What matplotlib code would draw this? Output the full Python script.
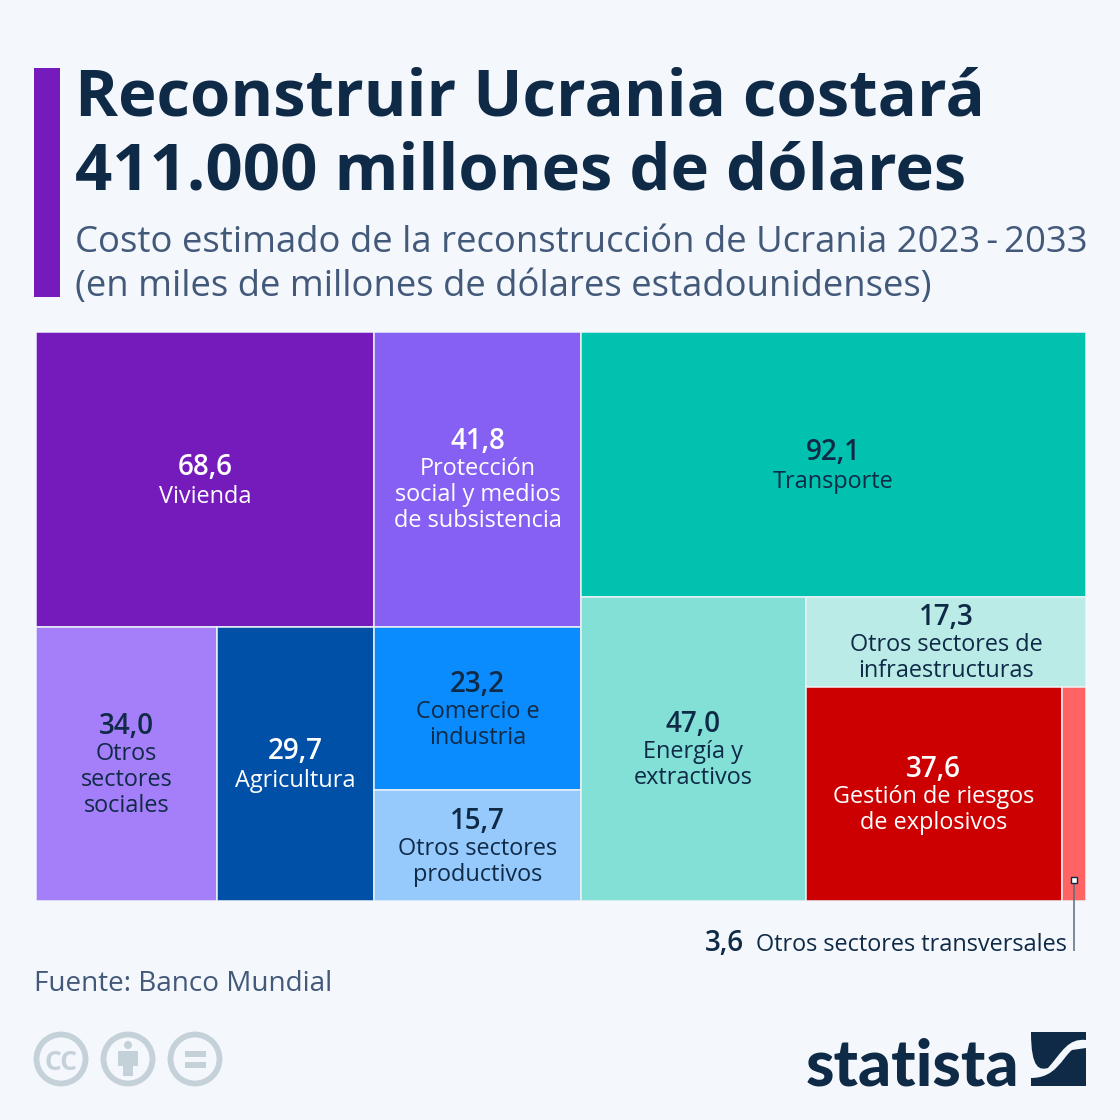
#!/usr/bin/env python3
# -*- coding: utf-8 -*-
"""
Treemap: estimated cost of rebuilding Ukraine 2023-2033, by sector.
"""

import matplotlib
matplotlib.use('Agg')
import matplotlib.pyplot as plt
from matplotlib.patches import Rectangle, Circle, PathPatch
from matplotlib.path import Path

plt.rcParams['font.family'] = ['Open Sans', 'DejaVu Sans']

BG = '#F4F7FB'
DARK = '#0F2A47'
SLATE = '#42597A'
GREY = '#C5D1D9'

title_lines = ['Reconstruir Ucrania costará', '411.000 millones de dólares']
subtitle_lines = ['Costo estimado de la reconstrucción de Ucrania 2023\u2009-\u20092033',
                  '(en miles de millones de dólares estadounidenses)']
source = 'Fuente: Banco Mundial'

values = [68.6, 34.0, 29.7, 41.8, 23.2, 15.7, 92.1, 47.0, 17.3, 37.6, 3.6]
value_labels = ['68,6', '34,0', '29,7', '41,8', '23,2', '15,7', '92,1', '47,0', '17,3', '37,6', '3,6']
sectors = [['Vivienda'],
           ['Otros', 'sectores', 'sociales'],
           ['Agricultura'],
           ['Protección', 'social y medios', 'de subsistencia'],
           ['Comercio e', 'industria'],
           ['Otros sectores', 'productivos'],
           ['Transporte'],
           ['Energía y', 'extractivos'],
           ['Otros sectores de', 'infraestructuras'],
           ['Gestión de riesgos', 'de explosivos'],
           ['Otros sectores transversales']]
colors = ['#751ABB', '#A57EFA', '#0050A8', '#8560F2', '#0A8CFF', '#96CAFD',
          '#00C2AE', '#82E0D6', '#BAEBE6', '#CC0000', '#FF6464']
text_colors = ['white', DARK, 'white', 'white', DARK, DARK,
               DARK, DARK, DARK, 'white', DARK]

# nesting of the treemap, the numbers index into values
tree = [[0, [1, 2]], [3, 4, 5], [6, [7, [8, [9, 10]]]]]


def weight(node):
    if isinstance(node, int):
        return values[node]
    return sum(weight(n) for n in node)


def layout(node, x, y, w, h, horizontal, out):
    if isinstance(node, int):
        out[node] = (x, y, w, h)
        return
    total = weight(node)
    for n in node:
        share = weight(n) / total
        if horizontal:
            layout(n, x, y, w * share, h, False, out)
            x += w * share
        else:
            layout(n, x, y, w, h * share, True, out)
            y += h * share


fig = plt.figure(figsize=(11.2, 11.2), dpi=100, facecolor=BG)

# overlay in pixel coordinates for title, footer and logo
ov = fig.add_axes([0, 0, 1, 1], zorder=3)
ov.set_xlim(0, 1120)
ov.set_ylim(1120, 0)
ov.axis('off')
ov.patch.set_alpha(0)

# treemap, x in billions of dollars and y as share of the height
ax = fig.add_axes([36 / 1120, 1 - 901 / 1120, 1050 / 1120, 569 / 1120], zorder=1)
total = sum(values)
ax.set_xlim(0, total)
ax.set_ylim(1, 0)
ax.axis('off')

cells = {}
layout(tree, 0, 0, total, 1, True, cells)

PX = 0.72  # points per pixel
for i in range(len(values)):
    x, y, w, h = cells[i]
    ax.add_patch(Rectangle((x, y), w, h, facecolor=colors[i], edgecolor='#EAF2F6', linewidth=1.1))
    if i == 10:
        continue
    cx = x + w / 2
    cy = y + h / 2
    n = len(sectors[i])
    gap = 30 if n == 1 else 28
    top = -(gap + 26 * (n - 1)) / 2 - 1
    ax.annotate(value_labels[i], (cx, cy), xytext=(0, -top * PX), textcoords='offset points',
                ha='center', va='center_baseline', fontsize=20, fontweight='semibold', color=text_colors[i])
    for j, line in enumerate(sectors[i]):
        ax.annotate(line, (cx, cy), xytext=(0, -(top + gap + 26 * j) * PX), textcoords='offset points',
                    ha='center', va='center_baseline', fontsize=16.9, color=text_colors[i])

# header
ov.add_patch(Rectangle((34, 68), 26, 229, facecolor='#751ABB', edgecolor='none'))
ov.text(75, 115, title_lines[0], fontsize=47, fontweight='bold', color=DARK, va='baseline')
ov.text(75, 189, title_lines[1], fontsize=47, fontweight='bold', color=DARK, va='baseline')
ov.text(75, 252, subtitle_lines[0], fontsize=26.25, color=SLATE, va='baseline')
ov.text(75, 296, subtitle_lines[1], fontsize=26.25, color=SLATE, va='baseline')

# callout for the smallest cell
x, y, w, h = cells[10]
lx = 36 + (x + w / 2) / total * 1050
ov.plot([lx, lx], [880, 951], color='#5A6B80', lw=1.1, solid_capstyle='butt')
ov.plot([lx], [880], marker='s', ms=5, mfc='white', mec=DARK, mew=1)
ov.text(1067, 951, sectors[10][0], fontsize=16.9, color=DARK, ha='right', va='baseline')
ov.text(744, 951, value_labels[10], fontsize=20, fontweight='semibold', color=DARK, ha='right', va='baseline')

# footer
ov.text(34, 991, source, fontsize=20.1, color=SLATE, va='baseline')

# cc icons
for cx in [61, 128, 195]:
    ov.add_patch(Circle((cx, 1059), 24.5, facecolor='none', edgecolor=GREY, linewidth=4.2))
ov.text(61, 1059, 'CC', fontsize=19, fontweight='bold', color=GREY, ha='center', va='center_baseline')
ov.add_patch(Circle((128, 1045), 4, facecolor=GREY, edgecolor='none'))
ov.add_patch(Rectangle((118, 1051), 20, 15, facecolor=GREY, edgecolor='none'))
ov.add_patch(Rectangle((123, 1064), 10, 12, facecolor=GREY, edgecolor='none'))
ov.add_patch(Rectangle((185, 1051), 21, 6, facecolor=GREY, edgecolor='none'))
ov.add_patch(Rectangle((185, 1062), 21, 6, facecolor=GREY, edgecolor='none'))

# statista logo
ov.text(806, 1085, 'statista', fontsize=46.5, fontweight=900, color=DARK, va='baseline', family='Lato')
upper = Path([(1031, 1032), (1086, 1032), (1086, 1040), (1068, 1038), (1062, 1052), (1048, 1068),
              (1040, 1070), (1031, 1070), (1031, 1032), (1031, 1032)],
             [Path.MOVETO, Path.LINETO, Path.LINETO, Path.CURVE4, Path.CURVE4, Path.CURVE4,
              Path.CURVE4, Path.CURVE4, Path.LINETO, Path.CLOSEPOLY])
lower = Path([(1086, 1048), (1086, 1086), (1031, 1086), (1031, 1078), (1056, 1078), (1062, 1058),
              (1072, 1050), (1086, 1048), (1086, 1048)],
             [Path.MOVETO, Path.LINETO, Path.LINETO, Path.LINETO, Path.CURVE4, Path.CURVE4,
              Path.LINETO, Path.LINETO, Path.CLOSEPOLY])
ov.add_patch(PathPatch(upper, facecolor=DARK, edgecolor='none'))
ov.add_patch(PathPatch(lower, facecolor=DARK, edgecolor='none'))

fig.savefig('out.png', dpi=100, facecolor=BG)
